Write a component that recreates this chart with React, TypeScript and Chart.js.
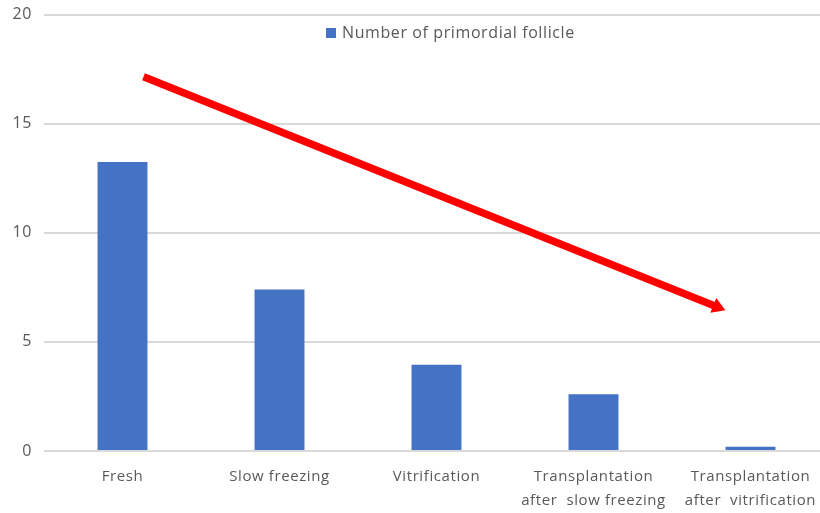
import React, { useEffect, useRef } from "react";
import { Chart, registerables } from "chart.js";

Chart.register(...registerables);

const categories: (string | string[])[] = [
  "Fresh",
  "Slow freezing",
  "Vitrification",
  ["Transplantation", "after  slow freezing"],
  ["Transplantation", "after  vitrification"],
];
const follicleCounts = [13.25, 7.4, 3.95, 2.6, 0.2];
const seriesName = "Number of primordial follicle";
const yTicks = [0, 5, 10, 15, 20];
// trend arrow in data coordinates: [category index, value]
const arrowStart = [0.134, 17.15];
const arrowEnd = [3.84, 6.45];

const FONT = "'Open Sans', 'Liberation Sans', sans-serif";
const TEXT = "#595959";
const BLUE = "#4472C4";
const SHIFT = 7;

const spacingPlugin = {
  id: "spacing",
  beforeInit(chart: any) { chart.ctx.letterSpacing = "0.6px"; },
  beforeUpdate(chart: any) { chart.ctx.letterSpacing = "0.6px"; },
  beforeDraw(chart: any) { chart.ctx.letterSpacing = "0.6px"; },
};

const overlayPlugin = {
  id: "overlay",
  afterDatasetsDraw(chart: any) {
    const { ctx, scales } = chart;
    const x = scales.x, y = scales.y;
    const px = (i: number) => x.getPixelForValue(0) + i * (x.getPixelForValue(1) - x.getPixelForValue(0));
    const x0 = px(arrowStart[0]), y0 = y.getPixelForValue(arrowStart[1]);
    const x1 = px(arrowEnd[0]), y1 = y.getPixelForValue(arrowEnd[1]);
    const ang = Math.atan2(y1 - y0, x1 - x0);
    const headLen = 13, headHalf = 8;
    const bx = x1 - headLen * Math.cos(ang), by = y1 - headLen * Math.sin(ang);
    ctx.save();
    ctx.strokeStyle = "#FF0000";
    ctx.fillStyle = "#FF0000";
    ctx.lineWidth = 7.5;
    ctx.lineCap = "butt";
    ctx.beginPath();
    ctx.moveTo(x0, y0);
    ctx.lineTo(bx + 1 * Math.cos(ang), by + 1 * Math.sin(ang));
    ctx.stroke();
    ctx.beginPath();
    ctx.moveTo(x1, y1);
    ctx.lineTo(bx + headHalf * Math.sin(ang), by - headHalf * Math.cos(ang));
    ctx.lineTo(bx - headHalf * Math.sin(ang), by + headHalf * Math.cos(ang));
    ctx.closePath();
    ctx.fill();

    // legend
    ctx.fillStyle = BLUE;
    ctx.fillRect(326, 28 + SHIFT, 10, 10);
    ctx.fillStyle = TEXT;
    ctx.font = `16px ${FONT}`;
    ctx.letterSpacing = "0.6px";
    ctx.textBaseline = "middle";
    ctx.textAlign = "left";
    ctx.fillText(seriesName, 342, 33 + SHIFT);
    ctx.restore();
  },
};

export default function App() {
  const ref = useRef<HTMLCanvasElement>(null);
  useEffect(() => {
    document.body.style.margin = "0";
    const chart = new Chart(ref.current!, {
      type: "bar",
      data: {
        labels: categories,
        datasets: [
          {
            label: seriesName,
            data: follicleCounts,
            backgroundColor: BLUE,
            barPercentage: 1,
            categoryPercentage: 0.318,
          },
        ],
      },
      options: {
        responsive: false,
        animation: false,
        devicePixelRatio: 1,
        layout: { padding: { top: 6, left: 0, right: 1, bottom: 0 } },
        plugins: { legend: { display: false }, tooltip: { enabled: false } },
        scales: {
          x: {
            grid: { display: false },
            border: { display: false },
            ticks: { color: TEXT, font: { family: FONT, size: 15, lineHeight: 1.6 }, padding: 6, maxRotation: 0, autoSkip: false },
            afterFit(s: any) { s.height = 62; },
          },
          y: {
            min: 0,
            max: 20,
            afterBuildTicks(s: any) { s.ticks = yTicks.map((v) => ({ value: v })); },
            grid: { color: "#D9D9D9", lineWidth: 2, drawTicks: false },
            border: { display: false },
            ticks: { color: TEXT, font: { family: FONT, size: 16 }, padding: 12 },
            afterFit(s: any) { s.width = 44; },
          },
        },
      },
      plugins: [spacingPlugin, overlayPlugin],
    });
    return () => chart.destroy();
  }, []);
  return (
    <div style={{ width: 820, height: 513, overflow: "hidden", position: "relative" }}>
      <canvas ref={ref} width={830} height={513 + SHIFT} style={{ display: "block", marginTop: -SHIFT }} />
    </div>
  );
}
